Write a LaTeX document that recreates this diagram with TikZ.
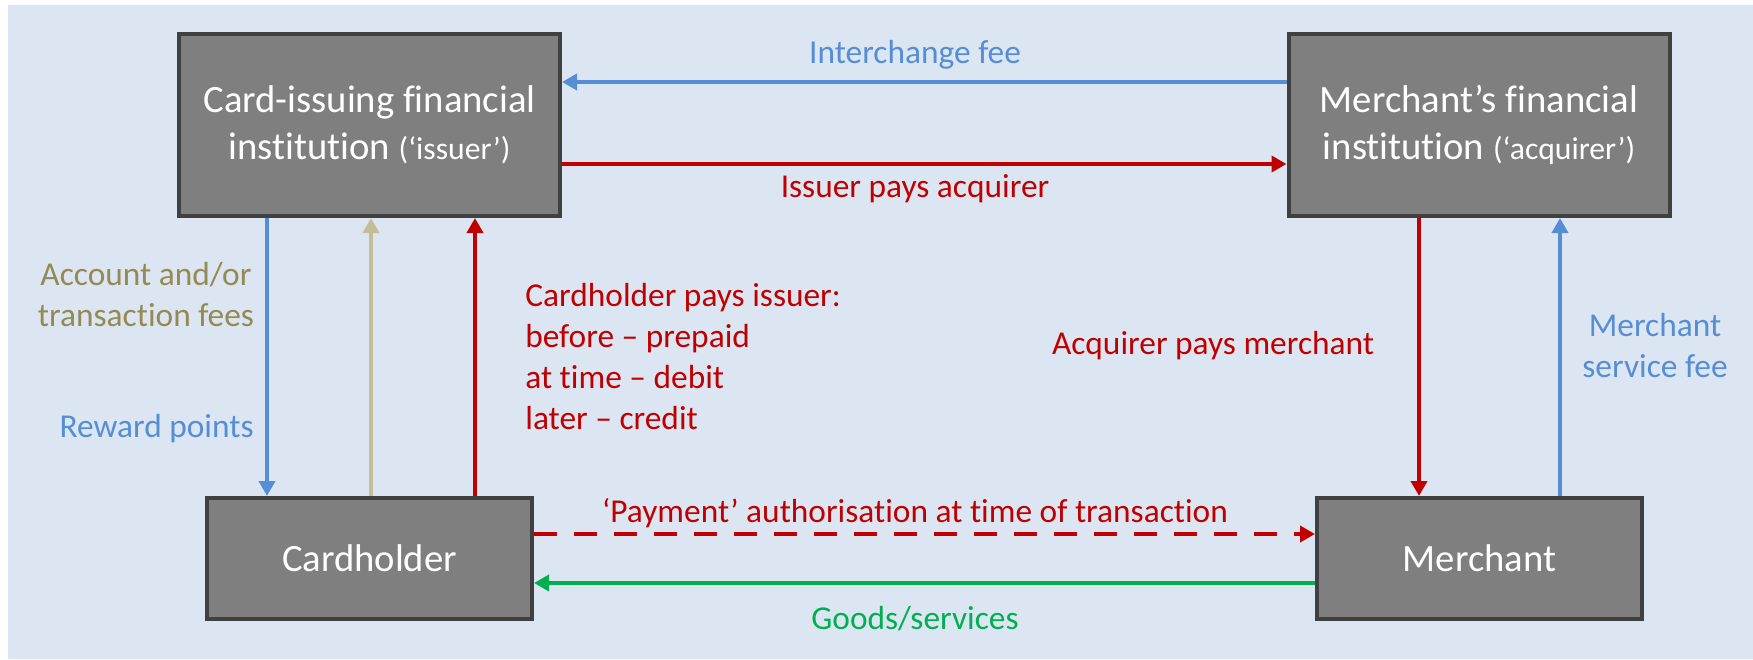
\documentclass[tikz,border=0pt]{standalone}
\usepackage{fontspec}
\setmainfont{Carlito}[Ligatures=NoCommon]
\usetikzlibrary{arrows.meta}
\definecolor{panel}{HTML}{DCE6F2}
\definecolor{boxfill}{HTML}{7F7F7F}
\definecolor{boxline}{HTML}{404040}
\definecolor{feeblue}{HTML}{558ED5}
\definecolor{payred}{HTML}{C00000}
\definecolor{feetan}{HTML}{C4BD97}
\definecolor{feeolive}{HTML}{948A54}
\definecolor{goodsgreen}{HTML}{00B050}
\begin{document}
\begin{tikzpicture}[x=0.2mm,y=-0.2mm,
  party/.style={draw=boxline,fill=boxfill,line width=0.8mm,text=white,align=center,font=\fontsize{22}{26.7}\selectfont},
  bank/.style={party,minimum width=76.2mm,minimum height=36.4mm},
  user/.style={party,minimum width=65mm,minimum height=24.2mm},
  lbl/.style={font=\fontsize{19}{23.3}\selectfont,inner sep=0pt},
  flow/.style={line width=0.8mm,-{Triangle[length=3mm,width=3.2mm]}}]
  \useasboundingbox (0,0) rectangle (1753,659);
  \fill[panel] (8,5) rectangle (1753,659);
  \node[bank] (issuer) at (369.5,125) {Card-issuing financial\\institution {\fontsize{18}{22}\selectfont(‘issuer’)}};
  \node[bank] (acquirer) at (1479,125) {Merchant’s financial\\institution {\fontsize{18}{22}\selectfont(‘acquirer’)}};
  \node[user] (cardholder) at (369.5,558.5) {Cardholder};
  \node[user] (merchant) at (1479.5,558.5) {Merchant};
  \coordinate (rewardx) at (267,0);
  \coordinate (acctx) at (371,0);
  \coordinate (payx) at (475,0);
  \coordinate (settlex) at (1419,0);
  \coordinate (msfx) at (1560,0);
  \coordinate (feey) at (0,82);
  \coordinate (settley) at (0,164);
  \coordinate (authy) at (0,534);
  \coordinate (goodsy) at (0,583);
  \draw[flow,feeblue] (acquirer.west |- feey) -- (issuer.east |- feey);
  \draw[flow,payred] (issuer.east |- settley) -- (acquirer.west |- settley);
  \draw[flow,payred,dash pattern=on 4.6mm off 3.4mm] (cardholder.east |- authy) -- (merchant.west |- authy);
  \draw[flow,goodsgreen] (merchant.west |- goodsy) -- (cardholder.east |- goodsy);
  \draw[flow,feeblue] (issuer.south -| rewardx) -- (cardholder.north -| rewardx);
  \draw[flow,feetan] (cardholder.north -| acctx) -- (issuer.south -| acctx);
  \draw[flow,payred] (cardholder.north -| payx) -- (issuer.south -| payx);
  \draw[flow,payred] (acquirer.south -| settlex) -- (merchant.north -| settlex);
  \draw[flow,feeblue] (merchant.north -| msfx) -- (acquirer.south -| msfx);
  \node[lbl,feeblue,anchor=base] (feelbl) at (915,63) {Interchange fee};
  \node[lbl,payred,anchor=base] (settlelbl) at (915,197) {Issuer pays acquirer};
  \node[lbl,payred,anchor=base] (authlbl) at (915,522) {‘Payment’ authorisation at time of transaction};
  \node[lbl,goodsgreen,anchor=base] (goodslbl) at (915,629) {Goods/services};
  \node[lbl,feeolive,align=center,anchor=base] (acctlbl) at (146,326) {Account and/or\\transaction fees};
  \node[lbl,feeblue,anchor=base east] (rewardlbl) at (254,437) {Reward points};
  \node[lbl,payred,align=left,anchor=base west] (paylbl) at (525,429) {Cardholder pays issuer:\\before -- prepaid\\at time -- debit\\later -- credit};
  \node[lbl,payred,anchor=base] (settle2lbl) at (1213,354) {Acquirer pays merchant};
  \node[lbl,feeblue,align=center,anchor=base] (msflbl) at (1655,377) {Merchant\\service fee};
\end{tikzpicture}
\end{document}
